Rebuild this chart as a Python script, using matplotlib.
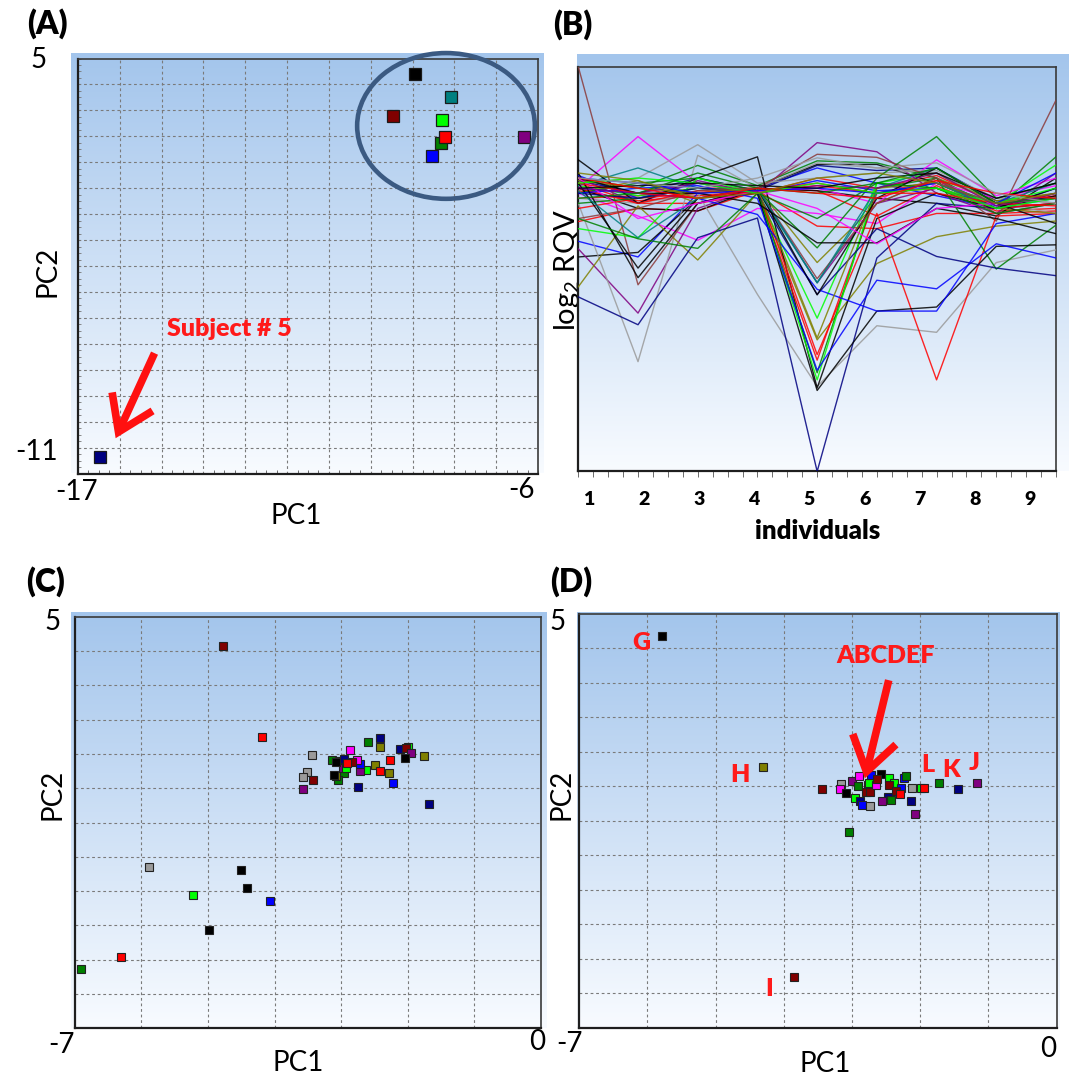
import numpy as np
import matplotlib
matplotlib.use('Agg')
import matplotlib.pyplot as plt
from matplotlib.patches import Ellipse
from matplotlib.ticker import MultipleLocator, NullFormatter

plt.rcParams['font.family'] = ['Lato', 'DejaVu Sans']
plt.rcParams['mathtext.fontset'] = 'custom'
plt.rcParams['mathtext.rm'] = 'Lato'
plt.rcParams['mathtext.it'] = 'Lato:italic'
plt.rcParams['mathtext.bf'] = 'Lato:bold'

# ---------------- colours ----------------
COL = {
    'black': '#000000', 'red': '#ff0000', 'darkred': '#800000', 'green': '#008000',
    'lime': '#00ff00', 'blue': '#0000ff', 'navy': '#000080', 'magenta': '#ff00ff',
    'purple': '#800080', 'gray': '#9a9a9a', 'olive': '#808000', 'teal': '#008080',
    'brown': '#8b3a3a',
}

# ---------------- panel A data ----------------
a_pc1 = [-8.93, -8.08, -9.46, -8.29, -8.33, -8.23, -8.53, -6.34, -16.48]
a_pc2 = [4.41, 3.53, 2.80, 2.61, 1.73, 1.97, 1.23, 1.97, -10.37]
a_colors = ['black', 'teal', 'darkred', 'lime', 'green', 'red', 'blue', 'purple', 'navy']

# ---------------- panel B data ----------------
b_individuals = [1, 2, 3, 4, 5, 6, 7, 8, 9]
b_tick_labels = ['1', '2', '3', '4', '5', '6', '7', '8', '9']
b_lines = [
    [0.05, -0.15, -0.05, 0.05, 0.15, 0.0, 0.25, -0.3, -0.2],
    [-0.1, -0.05, 0.1, 0.1, 0.05, -0.45, 0.15, -0.35, -0.3],
    [0.2, -0.2, -0.2, 0.0, 0.3, 0.1, 0.35, -0.2, -0.05],
    [-0.56, -0.3, -0.35, 0.05, -0.65, -0.7, -0.4, -0.4, -0.35],
    [0.35, -0.1, 0.2, 0.0, 0.25, 0.05, 0.1, -0.25, 0.0],
    [-0.95, -1.26, 0.0, 0.1, 0.5, 0.2, -0.05, -0.3, 0.1],
    [0.25, 0.0, 0.3, 0.05, 0.55, 0.45, 0.5, -0.15, -0.1],
    [0.1, -0.3, -0.35, 0.1, 0.57, 0.57, 0.2, -0.3, -0.05],
    [-1.26, -1.17, -0.1, 0.1, 0.05, -0.1, -0.2, -0.45, 0.3],
    [0.3, 0.1, 0.55, 0.15, 0.64, 0.6, 0.3, -0.3, 0.72],
    [0.15, -0.05, 0.1, 0.0, -2.47, 0.2, 0.4, -0.2, 0.56],
    [0.1, 1.12, 0.2, 0.05, 0.1, -0.2, 0.66, -0.05, 0.3],
    [0.0, -0.45, -0.93, -0.3, -0.4, -0.6, 0.2, -0.1, 0.15],
    [0.3, -0.2, 0.25, 0.0, 1.0, 0.82, 0.0, -0.4, 0.4],
    [-1.1, -2.37, -0.3, 0.1, -1.77, -0.2, 0.1, -0.3, 0.0],
    [-0.1, -0.2, 0.0, -2.0, -3.82, -2.62, -2.75, -1.37, -1.12],
    [0.2, 0.3, 0.96, 0.2, 0.3, 0.4, 0.45, -0.1, -0.2],
    [-0.2, -3.33, 0.75, 0.1, 0.6, 0.5, 0.4, -0.2, -0.4],
    [-1.85, -0.25, -1.32, 0.0, -2.9, -1.39, -0.86, -0.65, -0.55],
    [0.0, 0.25, -0.2, 0.1, -1.37, -0.2, 0.3, -0.15, 0.0],
    [0.15, 0.5, 0.1, 0.05, -1.77, 0.1, 0.5, -0.2, 0.2],
    [2.5, -1.81, -0.2, 0.1, 0.77, 0.71, 0.3, -0.55, 1.84],
    [-2.05, -2.6, -0.88, -0.49, -5.5, -1.28, -0.2, -0.3, -0.2],
    [0.66, -0.2, 0.3, 0.72, -3.85, -0.5, 0.0, -0.3, 0.1],
    [0.0, 0.2, 0.3, 0.05, -1.08, 0.3, 1.12, -0.1, 0.2],
    [-0.3, -0.1, 0.0, 0.1, -3.19, -0.4, -3.69, -0.45, -0.4],
    [0.1, -0.2, 0.05, 0.0, -3.3, 0.0, 0.1, -0.3, -0.2],
    [-0.2, -0.1, 0.1, 0.05, -3.55, 0.1, 0.3, -1.5, -0.63],
    [-0.7, -0.88, 0.3, 0.0, -3.69, 0.2, 0.1, -0.2, 0.1],
    [0.2, -1.48, -0.1, 0.0, -3.9, -2.33, -2.25, -1.05, -1.02],
    [0.0, 0.1, 0.15, -0.1, -3.5, -1.72, -1.89, -1.0, -1.28],
    [0.0, -0.1, 0.1, 0.0, -2.0, -0.7, -1.25, -1.48, -1.63],
    [0.1, 0.0, -0.1, -0.42, -1.9, -2.33, -2.33, -0.6, -0.4],
    [0.25, 0.1, 0.0, 0.1, -2.86, 0.1, 0.2, -0.3, -0.4],
    [0.4, -1.67, -0.2, 0.1, -2.01, -0.1, 0.5, -0.2, -0.6],
    [-0.5, -0.3, 0.05, 0.1, -1.69, -0.2, 0.3, -0.4, -0.2],
    [0.05, -0.88, -0.1, 0.1, -1.77, 0.0, 0.2, -0.3, -0.1],
    [0.3, 0.0, 0.0, -0.2, -0.98, -0.98, -0.3, -0.5, -0.8],
    [0.3, -0.5, -0.2, 0.05, -0.3, -1.0, -0.3, -0.2, -0.1],
    [-0.5, -0.9, -1.09, 0.0, -0.5, 0.2, 0.1, -0.4, -0.2],
    [0.2, 0.0, -0.1, 0.05, 0.2, 0.0, 0.0, -0.2, -0.25],
    [0.1, 0.0, 0.2, 0.0, 0.15, 0.1, 0.4, -0.25, 0.0],
    [0.3, 0.2, 0.0, 0.05, 0.1, 0.0, 0.2, -0.2, 0.4],
    [0.2, 0.3, 0.2, 0.0, 0.2, 0.0, 0.1, -0.3, -0.1],
    [0.1, 0.15, 0.2, 0.15, 0.1, 0.3, 0.4, -0.1, 0.2],
    [-0.1, 0.0, 0.4, 0.1, 0.0, 0.2, 0.5, -0.2, -0.1],
    [0.3, 0.1, -0.1, 0.1, 0.0, -0.1, 0.25, 0.0, -0.1],
    [0.3, 0.2, 0.1, 0.3, 0.7, 0.5, 0.6, 0.0, -0.2],
    [0.4, 0.25, -0.1, 0.0, 0.3, 0.4, 0.2, -0.2, 0.0],
]
b_colors = ['red', 'red', 'red', 'red', 'blue', 'blue', 'navy', 'black', 'black', 'green',
            'lime', 'magenta', 'magenta', 'purple', 'purple', 'gray', 'gray', 'gray', 'olive', 'olive',
            'teal', 'brown', 'navy', 'black', 'green', 'red', 'red', 'green', 'lime', 'black',
            'blue', 'navy', 'blue', 'olive', 'black', 'brown', 'teal', 'black', 'magenta', 'green',
            'red', 'purple', 'blue', 'lime', 'black', 'green', 'red', 'gray', 'olive']

# ---------------- panel C data ----------------
c_pc1 = [-4.77, -4.19, -3.44, -3.52, -3.57, -3.43, -3.58, -3.13, -2.87, -2.59,
         -2.42, -2.42, -2.12, -1.99, -2.02, -1.95, -2.04, -1.75, -2.27, -2.49,
         -2.41, -2.28, -2.22, -2.75, -1.68, -2.63, -2.72, -2.72, -2.76, -2.83,
         -3.03, -2.96, -2.95, -3.05, -3.08, -3.10, -2.97, -3.08, -2.93, -2.91,
         -5.88, -5.23, -4.50, -4.41, -4.07, -4.99, -6.31, -6.90]
c_pc2 = [4.15, 1.49, 0.98, 0.47, 0.34, 0.24, -0.01, 0.82, 1.12, 1.36,
         1.46, 1.20, 1.14, 1.20, 1.17, 1.02, 0.87, 0.95, 0.82, 0.69,
         0.49, 0.44, 0.16, 0.04, -0.45, 0.52, 0.50, 0.71, 0.82, 0.77,
         0.79, 0.85, 0.44, 0.24, 0.36, 0.39, 0.58, 0.76, 0.60, 0.73,
         -2.29, -3.11, -2.39, -2.90, -3.30, -4.12, -4.91, -5.28]
c_colors = ['darkred', 'red', 'gray', 'gray', 'gray', 'darkred', 'purple', 'green', 'magenta', 'green',
            'navy', 'olive', 'navy', 'lime', 'darkred', 'purple', 'black', 'olive', 'red', 'olive',
            'red', 'olive', 'blue', 'navy', 'navy', 'lime', 'purple', 'blue', 'magenta', 'darkred',
            'magenta', 'navy', 'green', 'green', 'olive', 'black', 'purple', 'black', 'lime', 'red',
            'gray', 'lime', 'black', 'black', 'blue', 'black', 'red', 'green']

# ---------------- panel D data ----------------
d_pc1 = [-5.79, -4.31, -3.85, -3.44, -3.16, -3.17, -3.09, -3.00, -2.90, -2.96,
         -2.88, -2.85, -2.73, -2.91, -2.76, -2.79, -2.73, -2.75, -2.64, -2.72,
         -2.57, -2.63, -2.45, -2.38, -2.46, -2.23, -2.21, -2.28, -2.36, -2.29,
         -2.47, -2.56, -2.43, -2.14, -2.12, -2.07, -1.98, -1.94, -1.72, -1.44,
         -1.16, -3.04]
d_pc2 = [4.36, 0.56, -5.53, -0.09, 0.07, -0.09, -0.19, 0.15, 0.31, -0.34,
         -0.43, -0.55, -0.57, 0.01, 0.03, -0.18, -0.18, 0.11, 0.03, 0.32,
         0.36, 0.22, 0.23, 0.09, 0.05, 0.23, 0.29, -0.04, -0.15, -0.21,
         -0.31, -0.43, -0.39, -0.43, -0.06, -0.79, -0.06, -0.06, 0.09, -0.08,
         0.09, -1.33]
d_colors = ['black', 'olive', 'darkred', 'darkred', 'gray', 'magenta', 'black', 'purple', 'magenta', 'lime',
            'navy', 'blue', 'gray', 'green', 'olive', 'darkred', 'darkred', 'lime', 'magenta', 'blue',
            'black', 'darkred', 'lime', 'lime', 'darkred', 'blue', 'green', 'blue', 'darkred', 'red',
            'navy', 'purple', 'green', 'navy', 'gray', 'purple', 'lime', 'red', 'green', 'navy',
            'purple', 'green']
d_labels = ['G', 'H', 'I', 'J', 'K', 'L']
d_label_x = [-6.09, -4.64, -4.22, -1.21, -1.55, -1.88]
d_label_y = [4.16, 0.32, -5.87, 0.67, 0.47, 0.61]

# ---------------- layout helpers ----------------
W, H = 1073, 1078
fig = plt.figure(figsize=(W / 100, H / 100), dpi=100)


def rect(l, t, r, b):
    return [l / W, 1 - b / H, (r - l) / W, (b - t) / H]


def ftext(px, py, s, **kw):
    kw.setdefault('ha', 'center')
    kw.setdefault('va', 'center')
    return fig.text(px / W, 1 - py / H, s, **kw)


TOP = np.array([163, 197, 236]) / 255.0
BOT = np.array([248, 251, 255]) / 255.0


def gradient_bg(l, t, r, b):
    bg = fig.add_axes(rect(l, t, r, b), zorder=1)
    g = np.linspace(0, 1, 256)[:, None, None]
    img = TOP * (1 - g) + BOT * g
    bg.imshow(img, aspect='auto', extent=[0, 1, 0, 1], origin='upper', interpolation='bilinear')
    bg.set_axis_off()
    return bg


def main_axes(l, t, r, b):
    ax = fig.add_axes(rect(l, t, r, b), zorder=2)
    ax.set_facecolor('none')
    for name, sp in ax.spines.items():
        sp.set_color('#1e1e1e' if name in ('left', 'bottom') else '#3a3a3a')
        sp.set_linewidth(1.6 if name in ('left', 'bottom') else 1.2)
    return ax


def style_grid(ax):
    ax.grid(True, which='major', color='#7a7a7a', linestyle=(0, (2.5, 2.5)), linewidth=0.8)
    ax.tick_params(which='major', length=0, labelleft=False, labelbottom=False)


NUM = dict(fontsize=20, color='black')
LAB = dict(fontsize=20, color='black')
PANEL = dict(fontsize=23, fontweight='heavy', color='black')
ANN = dict(fontsize=18, fontweight='heavy', color='#ff1a1a')
ARROW = dict(arrowstyle='->,head_length=0.6,head_width=0.4', color='#ff1010',
             lw=5.5, mutation_scale=40, shrinkA=0, shrinkB=0, joinstyle='miter', capstyle='butt')

# ================= Panel A =================
gradient_bg(70.5, 53, 543.5, 473.5)
axA = main_axes(78, 58.5, 538, 473.5)
axA.set_xlim(-17, -6)
axA.set_ylim(-11, 5)
axA.set_xticks(np.arange(-16, -6))
axA.set_yticks(np.arange(-10, 5))
style_grid(axA)
axA.xaxis.set_minor_locator(MultipleLocator(0.25))
axA.xaxis.set_minor_formatter(NullFormatter())
axA.tick_params(axis='x', which='minor', direction='in', length=3, color='#555555')
axA.yaxis.set_minor_locator(MultipleLocator(0.25))
axA.yaxis.set_minor_formatter(NullFormatter())
axA.tick_params(axis='y', which='minor', direction='in', length=2, color='#777777')
for x, y, c in zip(a_pc1, a_pc2, a_colors):
    axA.plot(x, y, marker='s', ms=8, color=COL[c], mec='#1a1a1a', mew=0.9, ls='none', zorder=3)
axA.add_patch(Ellipse((-8.20, 2.40), 4.25, 5.62, fill=False, edgecolor='#3b5a82', lw=3.3,
                      clip_on=False, zorder=4))
axA.annotate('', xy=(-16.10, -9.64), xytext=(-15.17, -6.36), arrowprops=ARROW, zorder=5)
axA.text(-14.86, -5.44, 'Subject # 5', ha='left', va='center', **ANN)

ftext(47, 24, '(A)', **PANEL)
ftext(39, 60, '5', **NUM)
ftext(37, 452, '-11', **NUM)
ftext(77, 492, '-17', **NUM)
ftext(521, 490, '-6', **NUM)
ftext(47, 271, 'PC2', rotation=90, **LAB)
ftext(296, 516, 'PC1', **LAB)

# ================= Panel B =================
gradient_bg(576.7, 53.6, 1068.3, 471.4)
axB = main_axes(578.3, 66.8, 1056, 471.4)
for vals, c in zip(b_lines, b_colors):
    axB.plot(b_individuals, vals, color=COL[c], lw=1.0, alpha=0.85, zorder=3)
axB.set_xlim(1, 9)
axB.set_ylim(-5.5, 2.5)
axB.set_yticks([])
axB.set_xticks(np.linspace(1.17, 8.57, 9))
axB.set_xticklabels(b_tick_labels, fontsize=14, fontweight='heavy')
axB.tick_params(axis='x', which='major', length=0, pad=14)
axB.xaxis.set_minor_locator(MultipleLocator(0.25))
axB.tick_params(axis='x', which='minor', direction='out', length=4, color='#555555')
axB.set_xlabel('individuals', fontsize=18.5, fontweight='heavy', labelpad=8)
ftext(573, 25, '(B)', **PANEL)
ftext(567, 270, r'log$_2$ RQV', rotation=90, fontsize=21, zorder=0.5)

# ================= Panel C =================
gradient_bg(71.3, 611.7, 546.7, 1028.3)
axC = main_axes(74.7, 616.7, 541, 1028.3)
axC.set_xlim(-7, 0)
axC.set_ylim(-7, 5)
axC.set_xticks(np.arange(-6, 0))
axC.set_yticks(np.arange(-6, 5))
style_grid(axC)
for x, y, c in zip(c_pc1, c_pc2, c_colors):
    axC.plot(x, y, marker='s', ms=5.6, color=COL[c], mec='#222222', mew=0.8, ls='none', zorder=3)
ftext(45.5, 582, '(C)', **PANEL)
ftext(52.5, 622, '5', **NUM)
ftext(61, 1045, '-7', **NUM)
ftext(537.5, 1042, '0', **NUM)
ftext(52.5, 794, 'PC2', rotation=90, **LAB)
ftext(298, 1063, 'PC1', **LAB)

# ================= Panel D =================
gradient_bg(577, 611.7, 1060, 1027.5)
axD = main_axes(579.1, 614, 1056.5, 1027.5)
axD.set_xlim(-7, 0)
axD.set_ylim(-7, 5)
axD.set_xticks(np.arange(-6, 0))
axD.set_yticks(np.arange(-6, 5))
style_grid(axD)
for x, y, c in zip(d_pc1, d_pc2, d_colors):
    axD.plot(x, y, marker='s', ms=5.6, color=COL[c], mec='#222222', mew=0.8, ls='none', zorder=3)
for s, x, y in zip(d_labels, d_label_x, d_label_y):
    axD.text(x, y, s, ha='center', va='center', **ANN)
axD.text(-2.50, 3.78, 'ABCDEF', ha='center', va='center', **ANN)
axD.annotate('', xy=(-2.81, 0.23), xytext=(-2.46, 3.08), arrowprops=ARROW, zorder=5)
ftext(571, 582, '(D)', **PANEL)
ftext(558, 622, '5', **NUM)
ftext(569, 1044, '-7', **NUM)
ftext(1048, 1049, '0', **NUM)
ftext(562, 794, 'PC2', rotation=90, **LAB)
ftext(825.5, 1064, 'PC1', **LAB)

fig.savefig('out.png', dpi=100)
